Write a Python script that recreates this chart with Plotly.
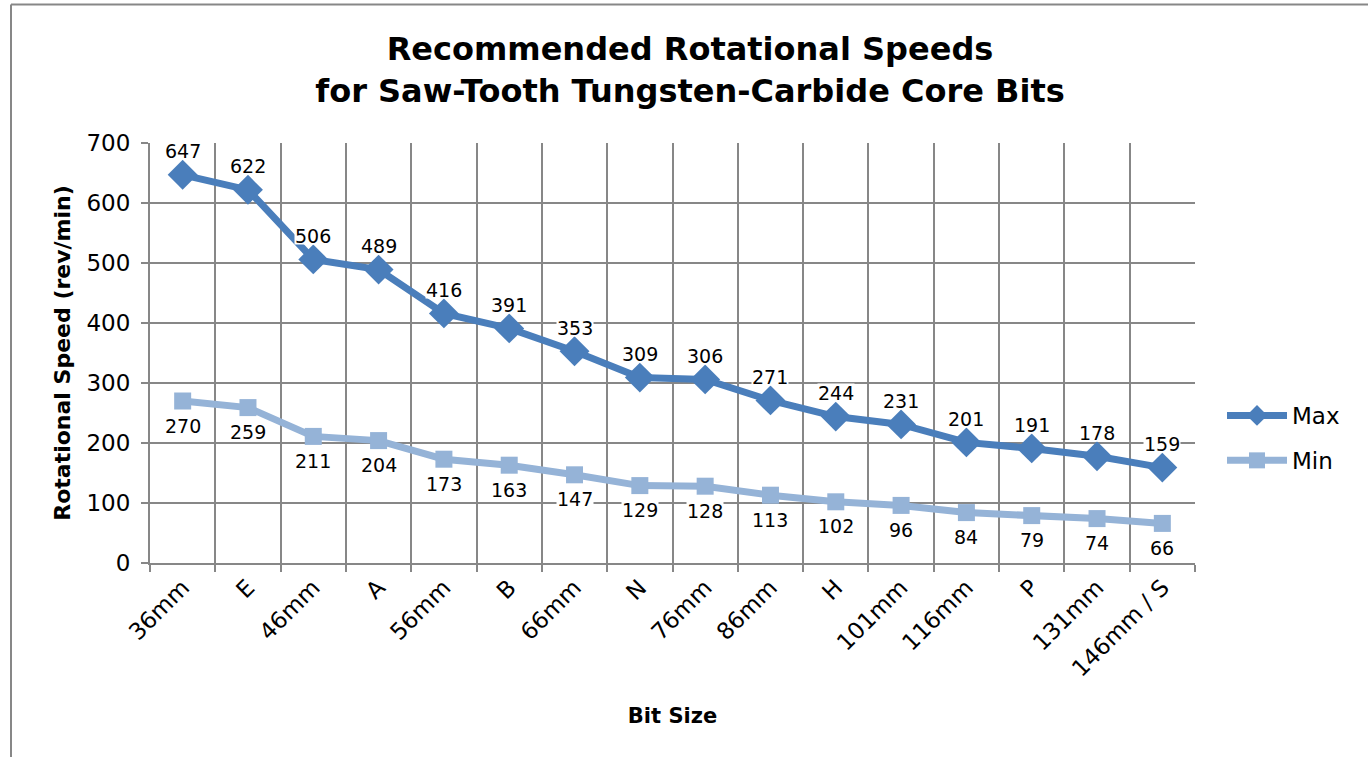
import plotly.graph_objects as go

categories = ["36mm", "E", "46mm", "A", "56mm", "B", "66mm", "N", "76mm",
              "86mm", "H", "101mm", "116mm", "P", "131mm", "146mm / S"]
max_speed = [647, 622, 506, 489, 416, 391, 353, 309, 306, 271, 244, 231, 201, 191, 178, 159]
min_speed = [270, 259, 211, 204, 173, 163, 147, 129, 128, 113, 102, 96, 84, 79, 74, 66]
y_ticks = [0, 100, 200, 300, 400, 500, 600, 700]

MAX_COLOR = "#4A7EBB"
MIN_COLOR = "#95B3D7"
GRID = "#878787"
FONT = "DejaVu Sans, Arial, sans-serif"

W, H = 1368, 757
L, T = 150, 143
PW, PH = 1045, 420
R = W - L - PW
B = H - T - PH

fig = go.Figure()
fig.add_trace(go.Scatter(
    x=categories, y=max_speed, name="Max", mode="lines+markers", legendgroup="a",
    line=dict(color=MAX_COLOR, width=7),
    marker=dict(symbol="diamond", size=23, color=MAX_COLOR),
))
fig.add_trace(go.Scatter(
    x=categories, y=min_speed, name="Min", mode="lines+markers", legendgroup="b",
    line=dict(color=MIN_COLOR, width=7),
    marker=dict(symbol="square", size=17, color=MIN_COLOR),
))

annotations = []
for c, v in zip(categories, max_speed):
    annotations.append(dict(x=c, y=v, text=str(v), showarrow=False, yshift=24,
                            bgcolor="white", borderpad=0, height=17, valign="middle",
                            font=dict(family=FONT, size=19, color="black")))
for c, v in zip(categories, min_speed):
    annotations.append(dict(x=c, y=v, text=str(v), showarrow=False, yshift=-24,
                            bgcolor="white", borderpad=0, height=17, valign="middle",
                            font=dict(family=FONT, size=19, color="black")))

def px(x):
    return (x - L) / PW
def py(y):
    return (T + PH - y) / PH

shapes = [
    dict(type="line", xref="paper", yref="paper", x0=px(11), x1=px(1380), y0=py(4.5), y1=py(4.5),
         line=dict(color=GRID, width=2)),
    dict(type="line", xref="paper", yref="paper", x0=px(11), x1=px(11), y0=py(4.5), y1=py(770),
         line=dict(color=GRID, width=2)),
]

fig.update_layout(
    width=W, height=H,
    margin=dict(l=L, r=R, t=T, b=B),
    paper_bgcolor="white", plot_bgcolor="white",
    font=dict(family=FONT, color="black"),
    title=dict(text="<b>Recommended Rotational Speeds<br>for Saw-Tooth Tungsten-Carbide Core Bits</b>",
               x=690 / W, xanchor="center", y=1 - 60 / H, yanchor="middle",
               font=dict(family=FONT, size=32, color="black")),
    showlegend=True,
    legend=dict(x=px(1222), y=py(438), xanchor="left", yanchor="middle",
                font=dict(family=FONT, size=23, color="black"),
                bgcolor="rgba(0,0,0,0)", tracegroupgap=12, itemwidth=60),
    annotations=annotations,
    shapes=shapes,
)
fig.update_xaxes(
    type="category", range=[-0.5, len(categories) - 0.5],
    tickson="boundaries", ticks="outside", ticklen=7, tickcolor=GRID, tickwidth=2,
    showgrid=True, gridcolor=GRID, gridwidth=2,
    showline=True, linecolor=GRID, linewidth=2,
    tickangle=-45, tickfont=dict(family=FONT, size=23, color="black"),
    title=dict(text="<b>Bit Size</b>", font=dict(family=FONT, size=21, color="black"), standoff=28),
)
fig.update_yaxes(
    range=[0, 700], tickvals=y_ticks, ticks="outside", ticklen=7, tickcolor=GRID, tickwidth=2,
    showgrid=True, gridcolor=GRID, gridwidth=2, zeroline=False,
    showline=True, linecolor=GRID, linewidth=2,
    tickfont=dict(family=FONT, size=23, color="black"), ticklabelstandoff=6,
    title=dict(text="<b>Rotational Speed (rev/min)</b>", font=dict(family=FONT, size=22, color="black"), standoff=10),
)

fig.write_html("out.html", config={"displayModeBar": False},
               post_script="document.body.style.margin='0px';")
